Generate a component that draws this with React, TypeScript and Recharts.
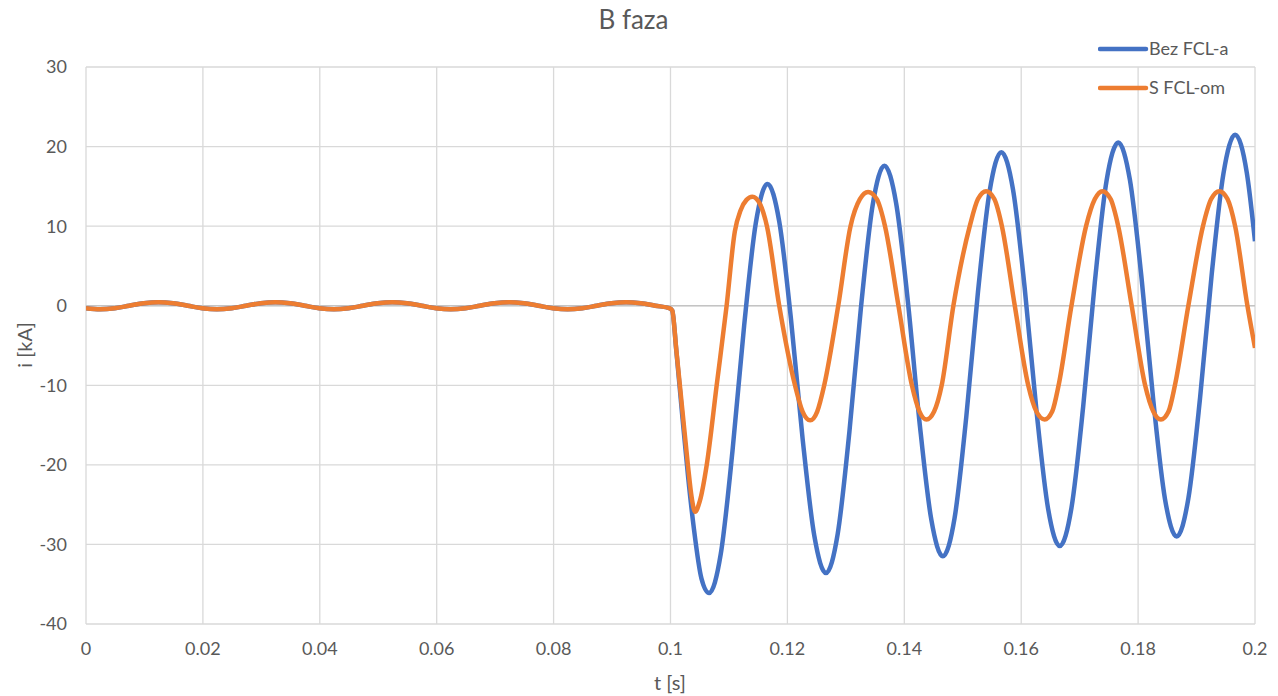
import { LineChart, Line, XAxis, YAxis, CartesianGrid, Legend, ReferenceLine, Label } from 'recharts';

// pre-fault part, same for both series
const preTime = [
  0, 0.0024, 0.0049, 0.0074, 0.0099, 0.0124, 0.0149, 0.0174, 0.0199, 0.0224, 0.0249, 0.0274, 0.0299, 0.0324,
  0.0349, 0.0374, 0.0399, 0.0424, 0.0449, 0.0474, 0.0499, 0.0524, 0.0549, 0.0574, 0.0599, 0.0624, 0.0649,
  0.0674, 0.0699, 0.0724, 0.0749, 0.0774, 0.0799, 0.0824, 0.0849, 0.0874, 0.0899, 0.0924, 0.0949, 0.0974, 0.0999,
];
const preCurrent = [
  -0.33, -0.45, -0.32, 0, 0.32, 0.45, 0.32, 0, -0.32, -0.45, -0.32, 0, 0.32, 0.45,
  0.32, 0, -0.32, -0.45, -0.32, 0, 0.32, 0.45, 0.32, 0, -0.32, -0.45, -0.32,
  0, 0.32, 0.45, 0.32, 0, -0.32, -0.45, -0.32, 0, 0.32, 0.45, 0.32, 0, -0.32,
];

// Bez FCL-a
const bezTime = [
  0.1003, 0.101, 0.102, 0.103, 0.104, 0.1053, 0.1066, 0.1086, 0.1106, 0.1126, 0.1146, 0.1166, 0.1186, 0.1206,
  0.1226, 0.1246, 0.1266, 0.1286, 0.1306, 0.1326, 0.1346, 0.1366, 0.1386, 0.1406, 0.1426, 0.1446, 0.1466,
  0.1486, 0.1506, 0.1526, 0.1546, 0.1566, 0.1586, 0.1606, 0.1626, 0.1646, 0.1666, 0.1686, 0.1706, 0.1726,
  0.1746, 0.1766, 0.1786, 0.1806, 0.1826, 0.1846, 0.1866, 0.1886, 0.1906, 0.1926, 0.1946, 0.1966, 0.1986, 0.2,
];
const bezCurrent = [
  -0.6, -5.7, -13.7, -21.4, -28.0, -34.3, -36.1, -31.2, -18.3, -2.5, 10.4, 15.3, 10.6, -1.6,
  -16.7, -28.9, -33.6, -28.7, -15.9, -0.1, 12.7, 17.6, 12.9, 0.6, -14.6, -26.8, -31.5,
  -26.7, -14.0, 1.7, 14.4, 19.3, 14.6, 2.2, -13.1, -25.5, -30.2, -25.4, -12.7, 3.0,
  15.7, 20.5, 15.8, 3.4, -11.9, -24.3, -29.0, -24.2, -11.6, 4.0, 16.6, 21.5, 16.7, 8.1,
];

// S FCL-om
const sTime = [
  0.1003, 0.101, 0.102, 0.103, 0.1036, 0.1042, 0.105, 0.1062, 0.1079, 0.1096, 0.111, 0.112, 0.113, 0.114, 0.1153,
  0.1165, 0.1186, 0.1213, 0.1226, 0.1239, 0.1251, 0.1263, 0.1287, 0.1308, 0.1324, 0.1338, 0.1353, 0.1367,
  0.139, 0.1413, 0.1426, 0.1438, 0.1451, 0.1464, 0.1484, 0.1512, 0.1526, 0.154, 0.1554, 0.1567, 0.1589,
  0.1612, 0.1626, 0.164, 0.1653, 0.1664, 0.1686, 0.1711, 0.1726, 0.1739, 0.1753, 0.1766, 0.1789, 0.1812,
  0.1826, 0.1839, 0.1852, 0.1863, 0.1886, 0.1911, 0.1925, 0.1939, 0.1953, 0.1966, 0.1987, 0.2,
];
const sCurrent = [
  -0.6, -5.6, -12.9, -20.2, -24.0, -25.9, -24.6, -20.0, -10.0, 0.0, 9.3, 12.0, 13.3, 13.7, 12.8,
  10.0, 0.0, -10.0, -13.3, -14.4, -13.3, -10.0, 0.0, 10.0, 13.4, 14.3, 13.4, 10.0,
  0.0, -10.0, -13.3, -14.3, -13.3, -10.0, 0.0, 10.0, 13.4, 14.4, 13.4, 10.0, 0.0,
  -10.0, -13.3, -14.3, -13.3, -10.0, 0.0, 10.0, 13.4, 14.4, 13.4, 10.0, 0.0, -10.0,
  -13.3, -14.3, -13.3, -10.0, 0.0, 10.0, 13.4, 14.4, 13.4, 10.0, 0.0, -5.3,
];

const timeTicks = [0, 0.02, 0.04, 0.06, 0.08, 0.1, 0.12, 0.14, 0.16, 0.18, 0.2];
const currentTicks = [-40, -30, -20, -10, 0, 10, 20, 30];
const seriesNames = ['Bez FCL-a', 'S FCL-om'];

const toRows = (t: number[], v: number[]) => t.map((x, k) => ({ t: x, i: v[k] }));
const bezData = [...toRows(preTime, preCurrent), ...toRows(bezTime, bezCurrent)];
const sData = [...toRows(preTime, preCurrent), ...toRows(sTime, sCurrent)];

const BLUE = '#4472C4';
const ORANGE = '#ED7D31';
const GRID = '#D9D9D9';
const TEXT = '#595959';
const FONT = 'Lato, "Open Sans", sans-serif';

function LegendBox() {
  const rows = [
    { name: seriesNames[0], color: BLUE },
    { name: seriesNames[1], color: ORANGE },
  ];
  return (
    <svg width={175} height={70}>
      {rows.map((r, k) => (
        <g key={r.name}>
          <line x1={2} x2={48} y1={12 + k * 39} y2={12 + k * 39} stroke={r.color} strokeWidth={4.5} strokeLinecap="round" />
          <text x={51} y={12 + k * 39} dy="0.36em" fontSize={18} fill={TEXT} fontFamily={FONT}>
            {r.name}
          </text>
        </g>
      ))}
    </svg>
  );
}

export default function App() {
  const tick = { fill: TEXT, fontSize: 18, fontFamily: FONT };
  return (
    <div style={{ position: 'absolute', left: 0, top: 0, width: 1278, height: 696, background: '#fff' }}>
      <div
        style={{
          position: 'absolute',
          left: 0,
          top: 6,
          width: 1267,
          textAlign: 'center',
          fontFamily: FONT,
          fontSize: 26,
          lineHeight: '26px',
          color: TEXT,
        }}
      >
        B faza
      </div>
      <LineChart width={1278} height={696} margin={{ top: 67, right: 23, bottom: 0, left: 0 }}>
        <CartesianGrid stroke={GRID} strokeWidth={1.3} />
        <XAxis
          type="number"
          dataKey="t"
          domain={[0, 0.2]}
          ticks={timeTicks}
          interval={0}
          allowDataOverflow
          axisLine={false}
          tickLine={false}
          tickSize={0}
          tickMargin={18}
          height={72}
          tick={tick}
        >
          <Label
            content={() => (
              <text x={670} y={690} textAnchor="middle" fontSize={20} fill={TEXT} fontFamily={FONT}>
                t [s]
              </text>
            )}
          />
        </XAxis>
        <YAxis
          type="number"
          domain={[-40, 30]}
          ticks={currentTicks}
          interval={0}
          allowDataOverflow
          axisLine={false}
          tickLine={false}
          tickSize={0}
          tickMargin={19}
          width={86}
          tick={tick}
        >
          <Label
            content={() => (
              <text x={32} y={345} transform="rotate(-90 32 345)" textAnchor="middle" fontSize={20} fill={TEXT} fontFamily={FONT}>
                i [kA]
              </text>
            )}
          />
        </YAxis>
        <ReferenceLine y={0} stroke="#C4C4C4" strokeWidth={1.5} />
        <Legend
          layout="vertical"
          align="center"
          verticalAlign="middle"
          wrapperStyle={{ left: 1098, top: 37, width: 175, height: 70 }}
          content={() => <LegendBox />}
        />
        <Line
          data={bezData}
          dataKey="i"
          name={seriesNames[0]}
          type="monotone"
          stroke={BLUE}
          strokeWidth={4.5}
          dot={false}
          activeDot={false}
          isAnimationActive={false}
        />
        <Line
          data={sData}
          dataKey="i"
          name={seriesNames[1]}
          type="monotone"
          stroke={ORANGE}
          strokeWidth={4.5}
          dot={false}
          activeDot={false}
          isAnimationActive={false}
        />
      </LineChart>
    </div>
  );
}
